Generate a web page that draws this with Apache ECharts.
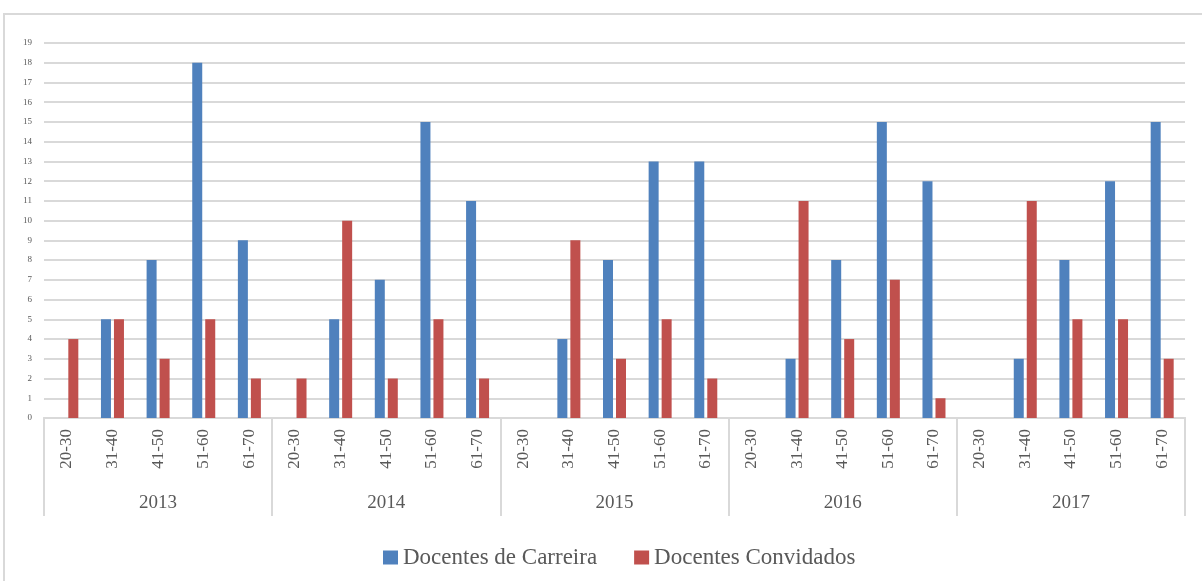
<!DOCTYPE html>
<html>
<head>
<meta charset="utf-8">
<script src="https://cdn.jsdelivr.net/npm/echarts@6/dist/echarts.min.js"></script>
<style>
body { margin: 0; background: #fff; }
#frame { position: absolute; left: 3px; top: 13px; width: 1300px; height: 700px; border-top: 2px solid #d9d9d9; border-left: 2px solid #d9d9d9; }
#chart { position: absolute; left: 0; top: 0; width: 1202px; height: 581px; }
</style>
</head>
<body>
<div id="frame"></div>
<div id="chart"></div>
<script>
const years = ['2013', '2014', '2015', '2016', '2017'];
const ageGroups = ['20-30', '31-40', '41-50', '51-60', '61-70'];
const carreira = [0, 5, 8, 18, 9, 0, 5, 7, 15, 11, 0, 4, 8, 13, 13, 0, 3, 8, 15, 12, 0, 3, 8, 12, 15];
const convidados = [4, 5, 3, 5, 2, 2, 10, 2, 5, 2, 0, 9, 3, 5, 2, 0, 11, 4, 7, 1, 0, 11, 5, 5, 3];

const categories = [];
years.forEach(function () { ageGroups.forEach(function (a) { categories.push(a); }); });

const font = 'Liberation Serif';
const myChart = echarts.init(document.getElementById('chart'));
const option = {
  animation: false,
  grid: { left: 44, right: 17, top: 43, bottom: 163 },
  legend: {
    top: 541,
    left: 378,
    itemWidth: 15,
    itemHeight: 14,
    itemGap: 37,
    icon: 'rect',
    textStyle: { fontFamily: font, fontSize: 23, color: '#595959' },
    data: ['Docentes de Carreira', 'Docentes Convidados']
  },
  xAxis: [
    {
      type: 'category',
      data: categories,
      axisLine: { lineStyle: { color: '#d9d9d9', width: 2 } },
      axisTick: { show: false },
      axisLabel: { rotate: 90, interval: 0, margin: 11, fontFamily: font, fontSize: 17, color: '#595959' }
    },
    {
      type: 'category',
      data: years,
      position: 'bottom',
      axisLine: { lineStyle: { color: '#d9d9d9', width: 2 } },
      axisTick: { show: true, length: 98, lineStyle: { color: '#d9d9d9', width: 2 } },
      axisLabel: { margin: 76, fontFamily: font, fontSize: 19, color: '#595959' }
    }
  ],
  yAxis: {
    type: 'value',
    min: 0,
    max: 19,
    interval: 1,
    axisLine: { show: false },
    axisTick: { show: false },
    splitLine: { lineStyle: { color: '#d9d9d9', width: 2 } },
    axisLabel: { margin: 12, fontFamily: font, fontSize: 9, color: '#595959' }
  },
  series: [
    {
      name: 'Docentes de Carreira',
      type: 'bar',
      data: carreira,
      barWidth: 10,
      barGap: '30%',
      itemStyle: { color: '#4f81bd' }
    },
    {
      name: 'Docentes Convidados',
      type: 'bar',
      data: convidados,
      barWidth: 10,
      itemStyle: { color: '#c0504d' }
    }
  ]
};
myChart.setOption(option);
</script>
</body>
</html>
